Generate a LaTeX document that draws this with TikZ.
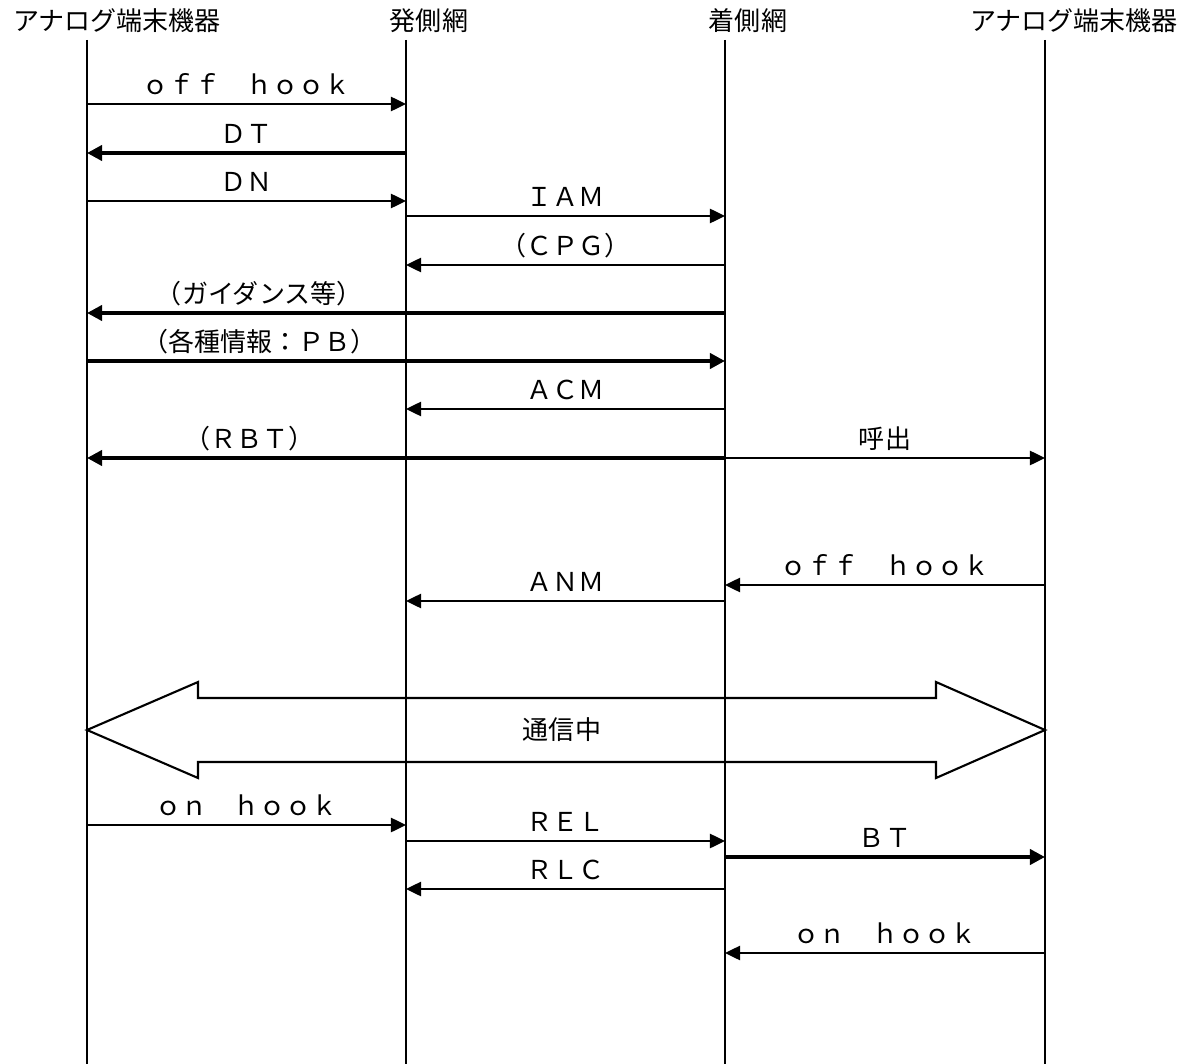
\documentclass[tikz,border=0pt]{standalone}
\usepackage{fontspec}
\setmainfont{Noto Sans CJK JP}
\usetikzlibrary{arrows.meta}
\begin{document}
\begin{tikzpicture}[x=0.025cm, y=-0.025cm,
  head/.style={font=\fontsize{18.5pt}{20pt}\selectfont, inner sep=0pt},
  lbl/.style={font=\fontsize{18.5pt}{20pt}\selectfont, inner sep=0pt, anchor=base, yshift=0.24cm},
  life/.style={line width=1.7pt},
  sigline/.style={line width=1.3pt, -{Triangle[length=0.38cm, width=0.36cm]}},
  toneline/.style={line width=3.2pt, -{Triangle[length=0.38cm, width=0.38cm]}},
  bigarrow/.style={line width=1.5pt, line join=miter}]
\useasboundingbox (0,0) rectangle (1198,1064);

% stations
\node[head] (h1) at (117,21) {アナログ端末機器};
\node[head] (h2) at (429,21) {発側網};
\node[head] (h3) at (748,21) {着側網};
\node[head] (h4) at (1074,21) {アナログ端末機器};

\coordinate (a) at (87,40);   \coordinate (a-end) at (87,1064);
\coordinate (b) at (406,40);  \coordinate (b-end) at (406,1064);
\coordinate (c) at (725,40);  \coordinate (c-end) at (725,1064);
\coordinate (d) at (1045,40); \coordinate (d-end) at (1045,1064);
\foreach \s in {a,b,c,d}
  \draw[life] (\s) -- (\s-end);

% messages
\foreach \f/\t/\y/\k/\p/\txt in {
  a/b/104/sigline/0.5/{ｏｆｆ　ｈｏｏｋ},
  b/a/153/toneline/0.5/{ＤＴ},
  a/b/201/sigline/0.5/{ＤＮ},
  b/c/216/sigline/0.5/{ＩＡＭ},
  c/b/265/sigline/0.5/{（ＣＰＧ）},
  c/a/313/toneline/0.73/{（ガイダンス等）},
  a/c/361/toneline/0.27/{（各種情報：ＰＢ）},
  c/b/409/sigline/0.5/{ＡＣＭ},
  c/a/458/toneline/0.745/{（ＲＢＴ）},
  c/d/458/sigline/0.5/{呼出},
  d/c/585/sigline/0.5/{ｏｆｆ　ｈｏｏｋ},
  c/b/601/sigline/0.5/{ＡＮＭ},
  a/b/825/sigline/0.5/{ｏｎ　ｈｏｏｋ},
  b/c/841/sigline/0.5/{ＲＥＬ},
  c/d/857/toneline/0.5/{ＢＴ},
  c/b/889/sigline/0.5/{ＲＬＣ},
  d/c/953/sigline/0.5/{ｏｎ　ｈｏｏｋ}}
  \draw[\k] (\f |- 0,\y) -- (\t |- 0,\y) node[lbl, pos=\p] {\txt};

% talking
\draw[bigarrow] (a |- 0,730) -- (198,682) -- (198,698) -- (936,698) -- (936,682)
  -- (d |- 0,730) -- (936,778) -- (936,762) -- (198,762) -- (198,778) -- cycle;
\node[lbl, anchor=center, yshift=0pt] (talk) at (562,739) {通信中};
\end{tikzpicture}
\end{document}
